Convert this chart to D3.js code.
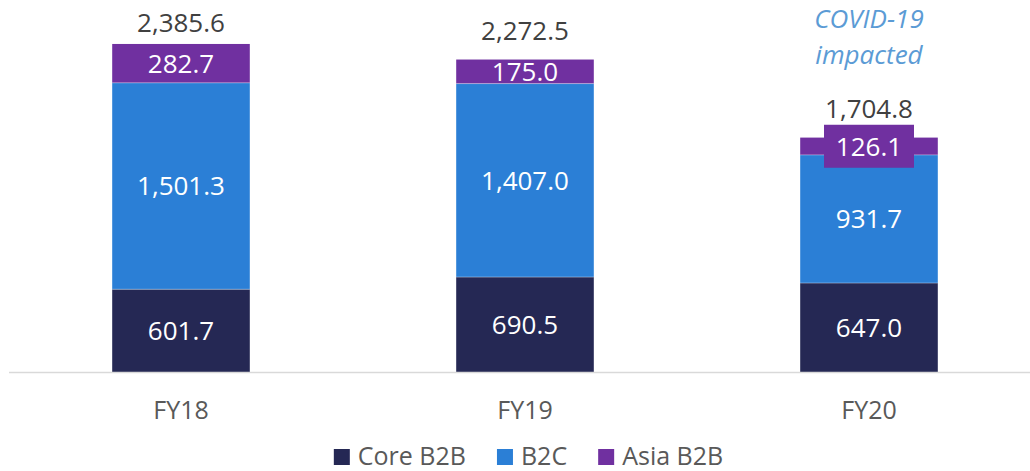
<!DOCTYPE html>
<html>
<head>
<meta charset="utf-8">
<script src="https://cdn.jsdelivr.net/npm/d3@7"></script>
<style>
  html, body { margin: 0; padding: 0; background: #fff; }
  svg { display: block; font-family: "Open Sans", sans-serif; }
</style>
</head>
<body>
<svg id="chart" width="1030" height="471"></svg>
<script>
// Revenue by segment, FY18–FY20
const categories = ["FY18", "FY19", "FY20"];
const seriesNames = ["Core B2B", "B2C", "Asia B2B"];
const coreB2B = [601.7, 690.5, 647.0];
const b2c = [1501.3, 1407.0, 931.7];
const asiaB2B = [282.7, 175.0, 126.1];
const totals = [2385.6, 2272.5, 1704.8];
const annotation = ["COVID-19", "impacted"];
const annotatedCategory = "FY20";

const colors = { "Core B2B": "#252854", "B2C": "#2b7fd6", "Asia B2B": "#7030a0" };
const seriesValues = { "Core B2B": coreB2B, "B2C": b2c, "Asia B2B": asiaB2B };

const svg = d3.select("#chart");
const W = 1030;
const baseY = 372;

const x = d3.scaleBand()
  .domain(categories)
  .range([9, 1041])
  .paddingInner(0.6)
  .paddingOuter(0.3);

const y = d3.scaleLinear()
  .domain([0, 2400])
  .range([baseY, 42]);

const fmt = d3.format(",.1f");

const rows = categories.map((c, i) => {
  const r = { category: c };
  seriesNames.forEach(s => { r[s] = seriesValues[s][i]; });
  return r;
});
const stacked = d3.stack().keys(seriesNames)(rows);

// stacked segments
const layers = svg.append("g").selectAll("g")
  .data(stacked)
  .join("g")
  .attr("fill", d => colors[d.key]);

layers.selectAll("rect")
  .data(d => d)
  .join("rect")
  .attr("x", d => x(d.data.category))
  .attr("width", x.bandwidth())
  .attr("y", d => y(d[1]))
  .attr("height", d => y(d[0]) - y(d[1]));

// thin separators between segments
layers.filter((d, i) => i > 0).selectAll("line")
  .data(d => d)
  .join("line")
  .attr("x1", d => x(d.data.category))
  .attr("x2", d => x(d.data.category) + x.bandwidth())
  .attr("y1", d => y(d[0]))
  .attr("y2", d => y(d[0]))
  .attr("stroke", "#ffffff")
  .attr("stroke-opacity", 0.35)
  .attr("stroke-width", 1);

// value labels inside segments
const labelSize = 26;
const capHalf = labelSize * 0.357;
const segLabels = svg.append("g");
stacked.forEach(layer => {
  layer.forEach(d => {
    const cx = x(d.data.category) + x.bandwidth() / 2;
    const cy = (y(d[0]) + y(d[1])) / 2;
    const h = y(d[0]) - y(d[1]);
    const txt = fmt(d[1] - d[0]);
    // short segments get a backing box so the label stays readable
    if (h < 22) {
      segLabels.append("rect")
        .attr("x", cx - 45)
        .attr("y", cy - 21.5)
        .attr("width", 90)
        .attr("height", 43)
        .attr("fill", colors[layer.key]);
    }
    segLabels.append("text")
      .attr("x", cx)
      .attr("y", cy + capHalf)
      .attr("text-anchor", "middle")
      .attr("font-size", labelSize)
      .attr("fill", "#ffffff")
      .text(txt);
  });
});

// totals above bars, kept inside the plot area
svg.append("g").selectAll("text")
  .data(categories)
  .join("text")
  .attr("x", c => x(c) + x.bandwidth() / 2)
  .attr("y", (c, i) => Math.max(y(totals[i]) - 20, 32))
  .attr("text-anchor", "middle")
  .attr("font-size", labelSize)
  .attr("fill", "#404040")
  .text((c, i) => fmt(totals[i]));

// annotation
svg.append("text")
  .attr("x", x(annotatedCategory) + x.bandwidth() / 2)
  .attr("text-anchor", "middle")
  .attr("font-size", 26)
  .attr("font-style", "italic")
  .attr("fill", "#5b9bd5")
  .selectAll("tspan")
  .data(annotation)
  .join("tspan")
  .attr("x", x(annotatedCategory) + x.bandwidth() / 2)
  .attr("y", (d, i) => 28 + i * 36)
  .text(d => d);

// baseline axis
svg.append("line")
  .attr("x1", 9).attr("x2", W)
  .attr("y1", baseY + 0.5).attr("y2", baseY + 0.5)
  .attr("stroke", "#d9d9d9")
  .attr("stroke-width", 1.5);

const xAxis = svg.append("g")
  .attr("transform", `translate(0,${baseY})`)
  .call(d3.axisBottom(x).tickSize(0).tickPadding(0));
xAxis.select(".domain").remove();
xAxis.selectAll("text")
  .attr("dy", null)
  .attr("y", 47)
  .attr("font-family", "Open Sans, sans-serif")
  .attr("font-size", 25)
  .attr("fill", "#595959");

// legend
const legend = svg.append("g");
const items = legend.selectAll("g")
  .data(seriesNames)
  .join("g");
items.append("rect")
  .attr("width", 16).attr("height", 16)
  .attr("y", 449)
  .attr("fill", d => colors[d]);
items.append("text")
  .attr("x", 24)
  .attr("y", 465)
  .attr("font-size", 25)
  .attr("fill", "#595959")
  .text(d => d);

let offset = 0;
const gap = 31;
items.each(function () {
  const g = d3.select(this);
  const w = 24 + g.select("text").node().getComputedTextLength();
  g.attr("transform", `translate(${offset},0)`);
  offset += w + gap;
});
const legendWidth = offset - gap;
legend.attr("transform", `translate(${528.5 - legendWidth / 2},0)`);
</script>
</body>
</html>
